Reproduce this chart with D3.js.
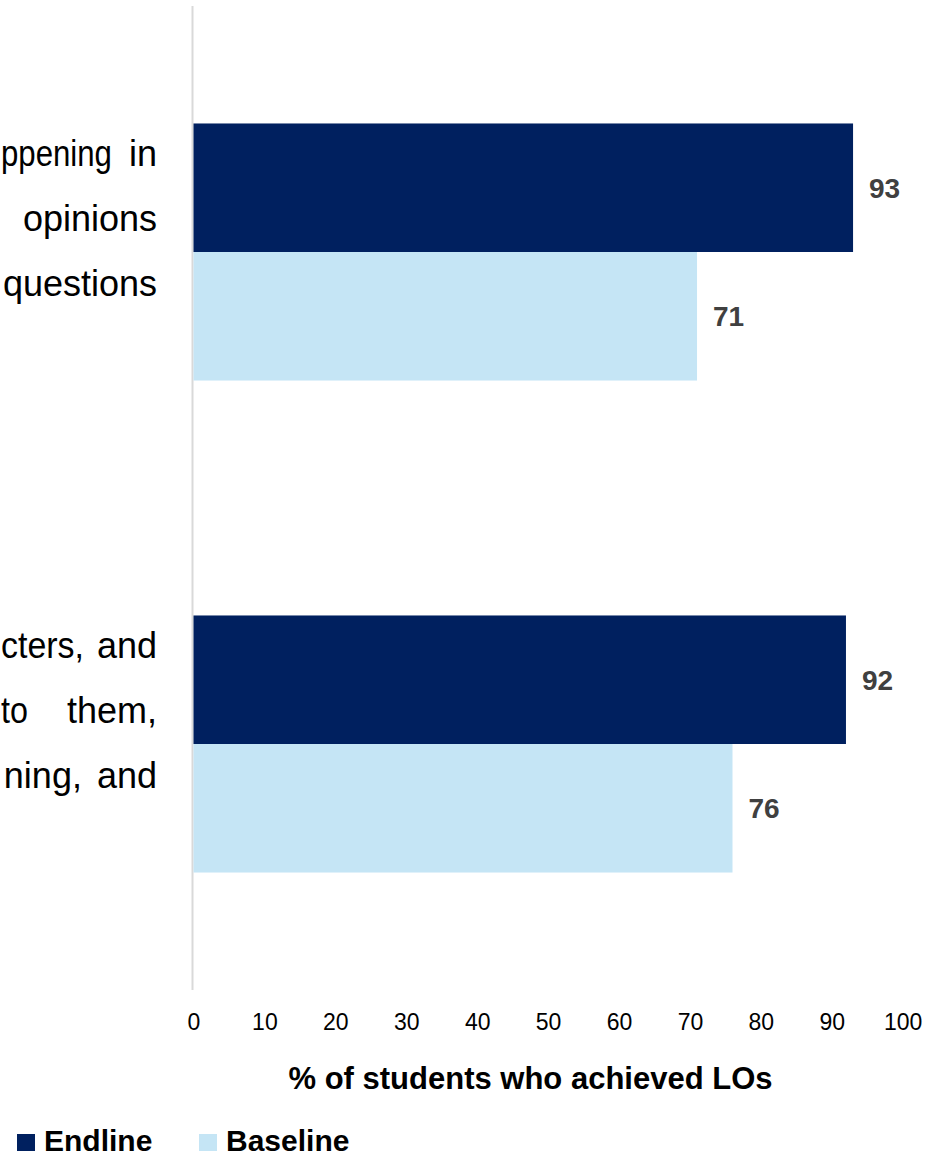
<!DOCTYPE html>
<html>
<head>
<meta charset="utf-8">
<script src="https://cdn.jsdelivr.net/npm/d3@7"></script>
<style>
html,body{margin:0;padding:0;background:#fff;}
svg{display:block;}
text{font-family:"Liberation Sans",Arial,Helvetica,sans-serif;}
</style>
</head>
<body>
<svg id="chart" width="928" height="1156"></svg>
<script>
// Data
const categories = ["LO1", "LO2"];
const categoryLabelLines = [
  [["ppening", "in"], ["opinions"], ["questions"]],
  [["cters,", "and"], ["to", "them,"], ["ning,", "and"]]
];
const seriesNames = ["Endline", "Baseline"];
const endlineValues = [93, 92];
const baselineValues = [71, 76];
const tickValues = [0, 10, 20, 30, 40, 50, 60, 70, 80, 90, 100];
const axisTitle = "% of students who achieved LOs";
const seriesColors = ["#00205F", "#C5E5F5"];

// layout: word gaps of the justified label lines
const labelGaps = [[17, 0, 0], [13, 39, 15]];

const svg = d3.select("#chart");
const x = d3.scaleLinear().domain([0, 100]).range([193.5, 902.7]);
const y = d3.scaleBand().domain(categories).range([6, 990]).padding(0);
const ySeries = d3.scaleBand().domain(seriesNames).range([0, y.bandwidth()])
  .paddingInner(0).paddingOuter(0.914);

const rows = categories.map((c, i) => ({
  cat: c,
  vals: [
    {s: seriesNames[0], v: endlineValues[i]},
    {s: seriesNames[1], v: baselineValues[i]}
  ]
}));
const color = d3.scaleOrdinal().domain(seriesNames).range(seriesColors);

// axis line (category axis)
svg.append("line")
  .attr("x1", 192.5).attr("x2", 192.5)
  .attr("y1", 6).attr("y2", 990)
  .attr("stroke", "#d9d9d9").attr("stroke-width", 2);

const g = svg.selectAll("g.cat").data(rows).join("g")
  .attr("class", "cat")
  .attr("transform", d => `translate(0,${y(d.cat)})`);

g.selectAll("rect").data(d => d.vals).join("rect")
  .attr("x", x(0))
  .attr("y", d => ySeries(d.s))
  .attr("width", d => x(d.v) - x(0))
  .attr("height", ySeries.bandwidth())
  .attr("fill", d => color(d.s));

g.selectAll("text.val").data(d => d.vals).join("text")
  .attr("class", "val")
  .attr("x", d => x(d.v) + 16)
  .attr("y", d => ySeries(d.s) + ySeries.bandwidth() / 2 + 10)
  .attr("font-size", 28)
  .attr("font-weight", "bold")
  .attr("fill", "#404040")
  .text(d => d.v);

// category labels (justified text, right edge at 157)
categories.forEach((c, i) => {
  const cy = y(c) + y.bandwidth() / 2;
  categoryLabelLines[i].forEach((words, j) => {
    const ly = cy + (j - 1.5) * 65 + 11;
    let right = 157;
    for (let k = words.length - 1; k >= 0; k--) {
      const t = svg.append("text")
        .attr("text-anchor", "end")
        .attr("x", right)
        .attr("y", ly)
        .attr("font-size", 36)
        .attr("fill", "#000")
        .text(words[k]);
      let w = t.node().getComputedTextLength();
      if (right - w < 1) {
        w = right - 1;
        t.attr("textLength", w).attr("lengthAdjust", "spacingAndGlyphs");
      }
      right = right - w - labelGaps[i][j];
    }
  });
});

// x tick labels
const xAxis = d3.axisBottom(x).tickValues(tickValues).tickSize(0).tickPadding(0);
const ax = svg.append("g").attr("transform", "translate(0,1008)").call(xAxis);
ax.select(".domain").remove();
ax.selectAll("text")
  .attr("font-size", 23)
  .attr("fill", "#000")
  .attr("dy", 0)
  .attr("y", 22)
  .style("font-family", '"Liberation Sans",Arial,sans-serif');

// axis title
svg.append("text")
  .attr("x", 530.5).attr("y", 1089)
  .attr("text-anchor", "middle")
  .attr("font-size", 31)
  .attr("font-weight", "bold")
  .attr("fill", "#000")
  .text(axisTitle);

// legend
const legendX = [17, 199];
const lg = svg.selectAll("g.leg").data(seriesNames).join("g")
  .attr("class", "leg")
  .attr("transform", (d, i) => `translate(${legendX[i]},1134)`);
lg.append("rect").attr("width", 18).attr("height", 17).attr("fill", d => color(d));
lg.append("text")
  .attr("x", 27).attr("y", 17)
  .attr("font-size", 30).attr("font-weight", "bold").attr("fill", "#000")
  .text(d => d);
</script>
</body>
</html>
